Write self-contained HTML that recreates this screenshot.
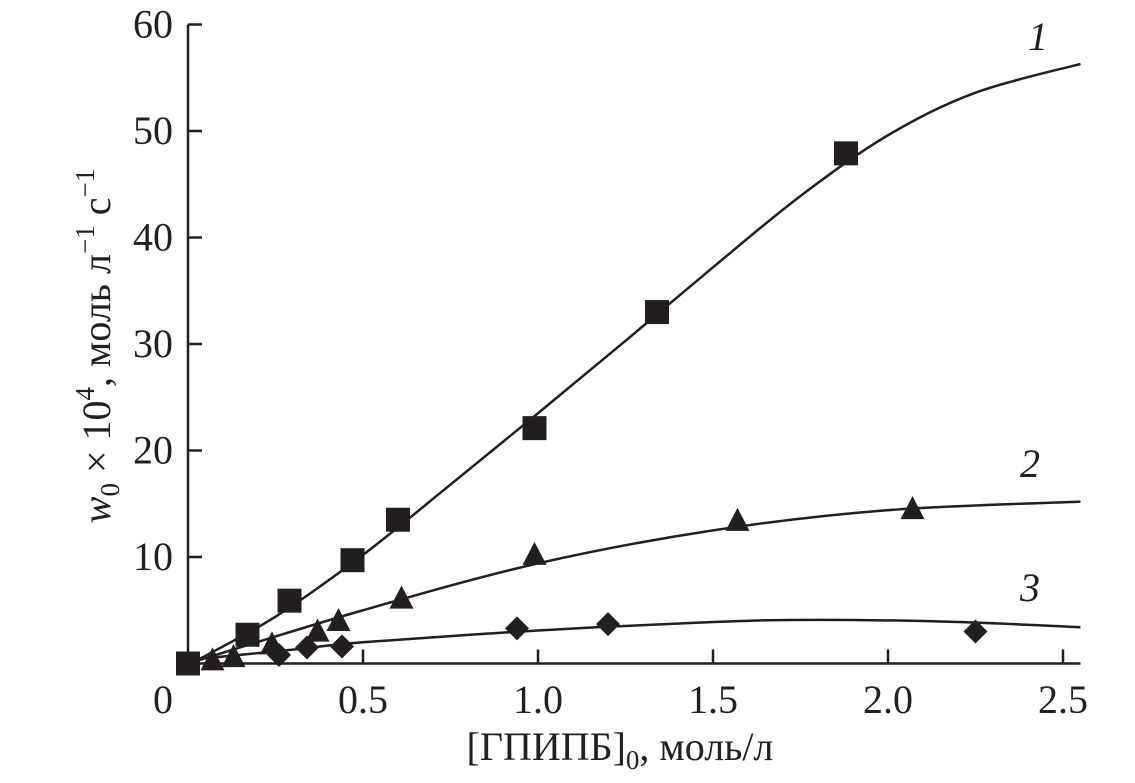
<!DOCTYPE html>
<html><head><meta charset="utf-8"><style>
html,body{margin:0;padding:0;background:#fff;width:1135px;height:783px;overflow:hidden}
text{font-family:"Liberation Serif",serif;fill:#231f20}
</style></head><body>
<svg id="chart" width="1135" height="783" viewBox="0 0 1135 783" xmlns="http://www.w3.org/2000/svg">
<g id="axes"></g>
<g id="curves"></g>
<g id="marks"></g>
<text x="1028" y="50" font-size="40" font-style="italic">1</text>
<text x="1020" y="477" font-size="40" font-style="italic">2</text>
<text x="1020" y="601" font-size="40" font-style="italic">3</text>
<text x="620" y="760" font-size="40" text-anchor="middle">[ГПИПБ]<tspan font-size="27" dy="9">0</tspan><tspan dy="-9">, моль/л</tspan></text>
<text transform="translate(110,346) rotate(-90)" font-size="40" text-anchor="middle"><tspan font-style="italic">w</tspan><tspan font-size="27" dy="9">0</tspan><tspan dy="-9"> × 10</tspan><tspan font-size="27" dy="-16">4</tspan><tspan dy="16">, моль л</tspan><tspan font-size="27" dy="-16">−1</tspan><tspan dy="16"> с</tspan><tspan font-size="27" dy="-16">−1</tspan></text>
</svg>
<script>
const xTicks=[0,0.5,1.0,1.5,2.0,2.5];
const xTickLabels=["0","0.5","1.0","1.5","2.0","2.5"];
const yTicks=[10,20,30,40,50,60];
const yTickLabels=["10","20","30","40","50","60"];
const s1x=[0,0.17,0.29,0.47,0.60,0.99,1.34,1.88];
const s1y=[0,2.7,5.9,9.7,13.5,22.1,33.0,47.9];
const s2x=[0.07,0.13,0.24,0.37,0.43,0.61,0.99,1.57,2.07];
const s2y=[0.2,0.5,1.7,2.9,3.9,6.0,10.1,13.3,14.4];
const s3x=[0.26,0.34,0.44,0.94,1.20,2.25];
const s3y=[0.8,1.5,1.6,3.3,3.7,3.0];
const c1x=[0.02,0.25,0.5,0.75,1.0,1.25,1.5,1.75,2.0,2.25,2.55];
const c1y=[0.2,4.4,10.2,16.8,23.5,30.3,37.2,43.9,49.6,53.6,56.3];
const c2x=[0.02,0.5,1.0,1.5,2.0,2.55];
const c2y=[0.2,5.0,9.4,12.5,14.4,15.2];
const c3x=[0.02,0.3,0.5,1.0,1.5,1.8,2.2,2.55];
const c3y=[0.4,1.3,2.0,3.1,3.9,4.1,3.9,3.4];
const X=v=>188+v*350;
const Y=v=>663.5-v*10.65;
const NS="http://www.w3.org/2000/svg";
function mk(tag,parent,attrs){const e=document.createElementNS(NS,tag);for(const k in attrs)e.setAttribute(k,attrs[k]);parent.appendChild(e);return e;}
const ax=document.getElementById('axes');
let e=mk('path',ax,{d:`M${X(0)} ${Y(60)}V${Y(0)}H${X(2.55)}`,fill:'none',stroke:'#231f20','stroke-width':2.5});


xTicks.forEach((v,i)=>{
 if(v>0){const t=mk('line',ax,{x1:X(v),x2:X(v),y1:Y(0),y2:Y(0)-14,stroke:'#231f20','stroke-width':2.5});
 
 }
 const l=mk('text',ax,{x:i===0?X(v)-25:X(v),y:713,'font-size':40,'text-anchor':'middle'});l.textContent=xTickLabels[i];
 
 
});
yTicks.forEach((v,i)=>{
 const t=mk('line',ax,{x1:X(0),x2:X(0)+14,y1:Y(v),y2:Y(v),stroke:'#231f20','stroke-width':2.5});
 
 
 const l=mk('text',ax,{x:173,y:Y(v)+13,'font-size':40,'text-anchor':'end'});l.textContent=yTickLabels[i];
 
 
});
function smooth(xs,ys){const p=xs.map((x,i)=>[X(x),Y(ys[i])]);let d=`M${p[0][0]} ${p[0][1]}`;
 for(let i=0;i<p.length-1;i++){const p0=p[i-1]||p[i],p1=p[i],p2=p[i+1],p3=p[i+2]||p2;
 d+=`C${p1[0]+(p2[0]-p0[0])/6} ${p1[1]+(p2[1]-p0[1])/6} ${p2[0]-(p3[0]-p1[0])/6} ${p2[1]-(p3[1]-p1[1])/6} ${p2[0]} ${p2[1]}`;}return d;}
const cg=document.getElementById('curves');
[[c1x,c1y,'curve-1'],[c2x,c2y,'curve-2'],[c3x,c3y,'curve-3']].forEach(c=>{
 const p=mk('path',cg,{d:smooth(c[0],c[1]),fill:'none',stroke:'#231f20','stroke-width':2.5});
 
 
});
const mg=document.getElementById('marks');
s1x.forEach((x,i)=>{const cx=X(x),cy=Y(s1y[i]);
 const m=mk('rect',mg,{x:cx-12,y:cy-12,width:24,height:24,fill:'#231f20'});
 
 });
s2x.forEach((x,i)=>{const cx=X(x),cy=Y(s2y[i]);
 const m=mk('polygon',mg,{points:`${cx},${cy-14} ${cx+12},${cy+9} ${cx-12},${cy+9}`,fill:'#231f20'});
 
 });
s3x.forEach((x,i)=>{const cx=X(x),cy=Y(s3y[i]);
 const m=mk('polygon',mg,{points:`${cx},${cy-12} ${cx+12},${cy} ${cx},${cy+12} ${cx-12},${cy}`,fill:'#231f20'});
 
 });
</script>
</body></html>
